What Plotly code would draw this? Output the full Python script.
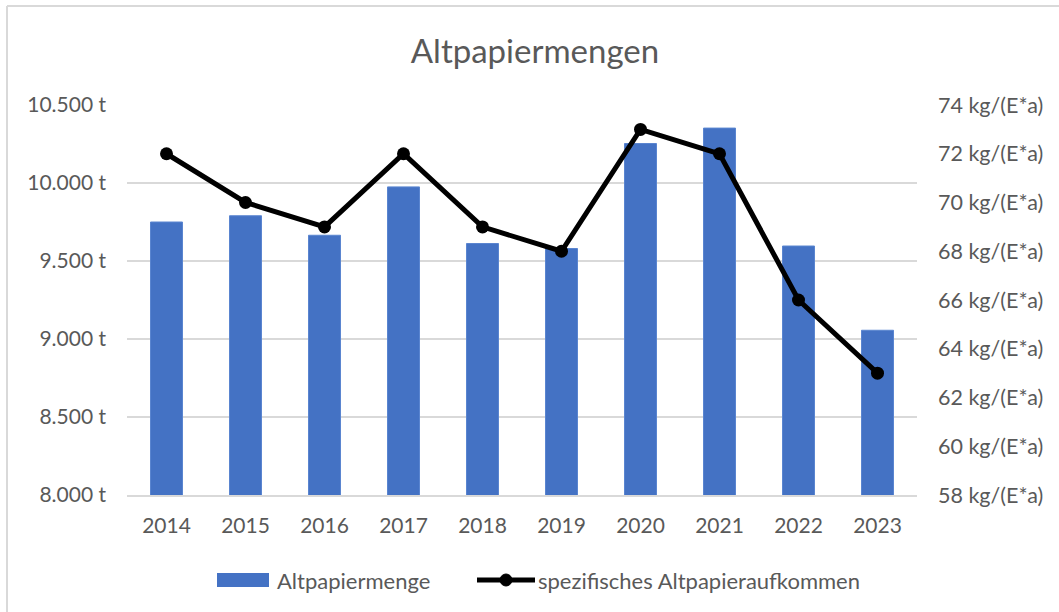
import plotly.graph_objects as go

years = ["2014", "2015", "2016", "2017", "2018", "2019", "2020", "2021", "2022", "2023"]
altpapiermenge = [9750, 9790, 9665, 9975, 9612, 9580, 10253, 10352, 9596, 9056]
spezifisch = [72, 70, 69, 72, 69, 68, 73, 72, 66, 63]
legend_names = ["Altpapiermenge", "spezifisches Altpapieraufkommen"]

FONT = "Lato"
GRAY = "#595959"
GRID = "#d9d9d9"
BLUE = "#4472C4"

fig = go.Figure()
fig.add_trace(go.Bar(
    x=years, y=altpapiermenge, name=legend_names[0],
    marker=dict(color=BLUE, line=dict(color="#5a85d0", width=1)),
    width=0.405, showlegend=False,
))
fig.add_trace(go.Scatter(
    x=years, y=spezifisch, name=legend_names[1],
    yaxis="y2", mode="lines+markers",
    line=dict(color="black", width=5),
    marker=dict(color="black", size=13),
    showlegend=False,
))

L, R, T, B = 127, 142, 105, 117
W, H = 1059, 612
pw = W - L - R
ph = H - T - B


def px(x):
    return (x - L) / pw


def py(y):
    return (H - B - y) / ph


TICKFONT = dict(family=FONT, size=21, color=GRAY)

fig.update_layout(
    width=W, height=H,
    margin=dict(l=L, r=R, t=T, b=B, autoexpand=False),
    paper_bgcolor="white", plot_bgcolor="white",
    separators=",.",
    font=dict(family=FONT, color=GRAY, size=16),
    title=dict(text="Altpapiermengen", x=px(535), xref="paper", xanchor="center",
               y=1 - 51 / H, yanchor="middle",
               font=dict(family=FONT, size=33, color=GRAY)),
    xaxis=dict(range=[-0.5, 9.5], showgrid=False, showline=True, linecolor=GRID, linewidth=1.5,
               ticks="", ticklabelstandoff=11, tickfont=TICKFONT),
    yaxis=dict(range=[8000, 10500], dtick=500, tickformat=",d", ticksuffix=" t",
               showgrid=True, gridcolor=GRID, gridwidth=1.5, zeroline=False,
               showline=False, ticks="", ticklabelstandoff=20, tickfont=TICKFONT),
    yaxis2=dict(range=[58, 74], dtick=2, ticksuffix=" kg/(E*a)", overlaying="y",
                side="right", showgrid=False, zeroline=False, showline=False,
                ticks="", ticklabelstandoff=20,
                tickfont=dict(family=FONT, size=21.5, color=GRAY)),
    showlegend=False,
    bargap=0.595,
)

# chart border (top and left edges visible)
fig.add_shape(type="line", xref="paper", yref="paper",
              x0=px(7), x1=px(W + 5), y0=py(6), y1=py(6),
              line=dict(color=GRID, width=2))
fig.add_shape(type="line", xref="paper", yref="paper",
              x0=px(7), x1=px(7), y0=py(6), y1=py(H + 5),
              line=dict(color=GRID, width=2))

# legend (drawn manually to match the wide bar key)
LEG_Y = 580
fig.add_shape(type="rect", xref="paper", yref="paper",
              x0=px(217), x1=px(269), y0=py(LEG_Y - 7), y1=py(LEG_Y + 7),
              fillcolor=BLUE, line=dict(width=0))
fig.add_annotation(text=legend_names[0], xref="paper", yref="paper",
                   x=px(275), y=py(LEG_Y), xanchor="left", yanchor="middle",
                   showarrow=False, font=dict(family=FONT, size=22, color=GRAY))
fig.add_shape(type="line", xref="paper", yref="paper",
              x0=px(477), x1=px(535), y0=py(LEG_Y), y1=py(LEG_Y),
              line=dict(color="black", width=5))
fig.add_shape(type="circle", xref="paper", yref="paper",
              x0=px(500), x1=px(512), y0=py(LEG_Y - 6), y1=py(LEG_Y + 6),
              fillcolor="black", line=dict(color="black", width=1))
fig.add_annotation(text=legend_names[1], xref="paper", yref="paper",
                   x=px(536), y=py(LEG_Y), xanchor="left", yanchor="middle",
                   showarrow=False, font=dict(family=FONT, size=22, color=GRAY))

fig.write_html("out.html", config={"displayModeBar": False},
               post_script="document.body.style.margin='0';")
